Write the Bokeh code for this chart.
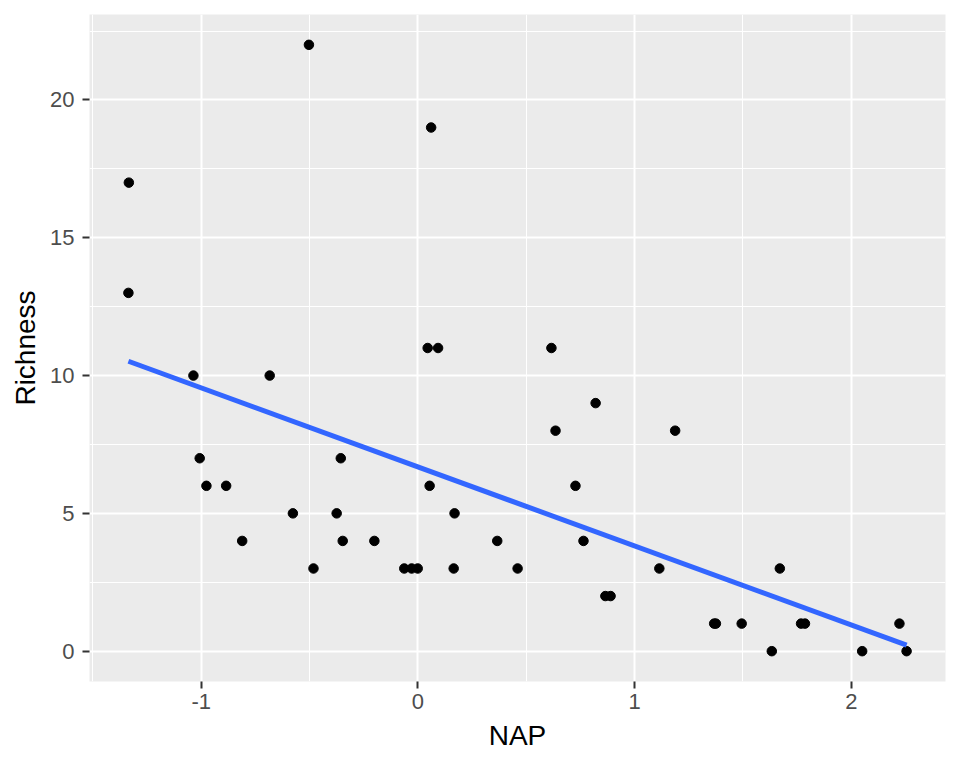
import numpy as np
from bokeh.plotting import figure
from bokeh.models import FixedTicker
from bokeh.embed import file_html
from bokeh.resources import INLINE

# RIKZ samples: NAP (height relative to mean sea level) vs species richness
nap = [-1.336, -1.334, -1.036, -1.007, -0.976, -0.885, -0.811, -0.684,
       -0.577, -0.503, -0.482, -0.375, -0.356, -0.347, -0.201, -0.063,
       -0.029, -0.001, 0.045, 0.054, 0.061, 0.093, 0.165, 0.169,
       0.366, 0.460, 0.616, 0.635, 0.727, 0.764, 0.820, 0.865,
       0.889, 1.114, 1.187, 1.367, 1.375, 1.494, 1.633, 1.670,
       1.768, 1.786, 2.050, 2.222, 2.255]
richness = [13, 17, 10, 7, 6, 6, 4, 10,
            5, 22, 3, 5, 7, 4, 4, 3,
            3, 3, 11, 6, 19, 11, 3, 5,
            4, 3, 11, 8, 6, 4, 9, 2,
            2, 3, 8, 1, 1, 1, 0, 3,
            1, 1, 0, 1, 0]

x_ticks = [-1, 0, 1, 2]
x_labels = {-1: "-1", 0: "0", 1: "1", 2: "2"}
x_minor = [-1.5, -0.5, 0.5, 1.5]
y_ticks = [0, 5, 10, 15, 20]
y_minor = [2.5, 7.5, 12.5, 17.5, 22.5]

# least squares fit, like geom_smooth(method = "lm", se = FALSE)
slope, intercept = np.polyfit(nap, richness, 1)
fit_x = [min(nap), max(nap)]
fit_y = [intercept + slope * v for v in fit_x]

x_pad = (max(nap) - min(nap)) * 0.05
y_pad = (max(richness) - min(richness)) * 0.05

p = figure(width=952, height=760, output_backend="svg", toolbar_location=None,
           x_range=(min(nap) - x_pad, max(nap) + x_pad),
           y_range=(min(richness) - y_pad, max(richness) + y_pad),
           x_axis_label="NAP", y_axis_label="Richness",
           min_border_left=89, min_border_right=7,
           min_border_top=14, min_border_bottom=79)

p.background_fill_color = "#EBEBEB"
p.border_fill_color = "white"
p.outline_line_color = None

p.xaxis.ticker = FixedTicker(ticks=x_ticks, minor_ticks=x_minor)
p.xaxis.major_label_overrides = x_labels
p.yaxis.ticker = FixedTicker(ticks=y_ticks, minor_ticks=y_minor)

p.grid.grid_line_color = "white"
p.grid.grid_line_width = 2
p.grid.minor_grid_line_color = "white"
p.grid.minor_grid_line_width = 1

for ax in (p.xaxis, p.yaxis):
    ax.axis_line_color = None
    ax.major_tick_in = 0
    ax.major_tick_out = 7
    ax.major_tick_line_color = "#333333"
    ax.major_tick_line_width = 2
    ax.minor_tick_line_color = None
    ax.major_label_text_font = "Liberation Sans"
    ax.major_label_text_font_size = "22px"
    ax.major_label_text_color = "#4D4D4D"
    ax.axis_label_text_font = "Liberation Sans"
    ax.axis_label_text_font_size = "28px"
    ax.axis_label_text_font_style = "normal"
    ax.axis_label_text_color = "black"

p.xaxis.major_label_standoff = 5
p.xaxis.axis_label_standoff = 8
p.yaxis.major_label_standoff = 8
p.yaxis.axis_label_standoff = 6

p.scatter(nap, richness, size=9.5, color="black")
p.line(fit_x, fit_y, line_color="#3366FF", line_width=5)

open("out.html", "w").write(file_html(p, INLINE))
